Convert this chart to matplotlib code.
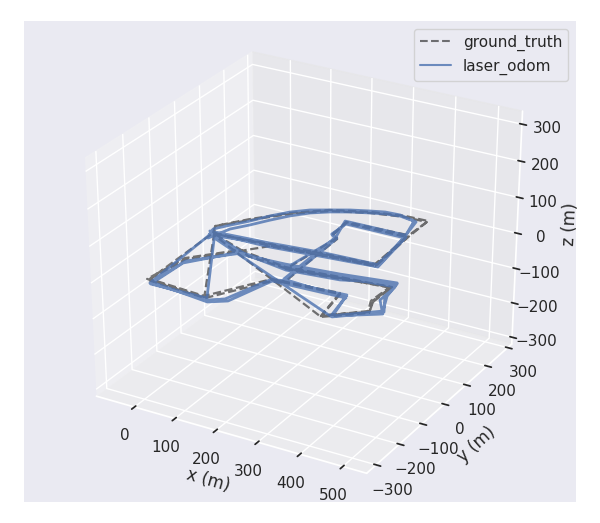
import numpy as np
import seaborn as sns
import matplotlib
matplotlib.use("Agg")
import matplotlib.pyplot as plt

gt_x = [4,-10,36,95,161,241,315,370,368,377,262,138,4,7,144,224,376,394,465,448,451,340,219,96,17,2,147,11,396,471,454,455,342,221,126,98,4,143,266,378,366,221,229,246,250,254,226,379,394,469,451,455,345,225,243,226,223,369,373,260,136,8,-9,39,97,164,243,318,370,371,379,264,141,99,21,6,151,229,256]
gt_y = [-18,14,82,152,209,244,264,266,178,19,8,-8,-18,-274,-285,-147,-133,-244,-176,-133,-57,-68,-84,-61,-153,-277,-289,-26,-247,-183,-135,-60,-72,-89,-78,-60,-18,-11,5,14,182,173,102,89,-77,-146,-151,-137,-239,-179,-126,-55,-76,-92,93,106,168,172,23,12,-4,-21,15,78,148,204,239,259,260,174,15,4,-13,-65,-156,-280,-292,-155,-150]
laser_x = [-1,8,25,51,76,102,132,166,204,243,273,306,350,363,383,264,141,2,17,159,188,224,393,415,495,466,457,338,216,101,26,21,154,19,410,497,462,460,340,219,126,99,0,143,267,385,367,223,227,244,250,250,226,394,411,491,466,457,342,223,243,224,226,367,379,260,136,2,-6,15,41,65,92,124,161,199,238,269,304,344,366,382,257,133,-7,106,212,333,455,347,228,107,25,18,164,198,229,398,245,239,217,360]
laser_y = [-21,-45,17,56,99,139,174,200,222,239,251,258,249,175,17,4,-13,-19,-290,-298,-275,-147,-134,-236,-164,-107,-43,-64,-80,-70,-175,-293,-290,-38,-234,-173,-120,-52,-68,-84,-78,-65,-20,-17,-1,13,171,168,101,88,-77,-143,-151,-139,-233,-161,-97,-37,-72,-87,93,105,164,166,15,12,-4,-31,-1,34,73,117,156,187,209,231,248,260,263,251,165,23,16,0,-13,-78,-72,-56,-33,-80,-96,-72,-165,-284,-305,-280,-155,-147,-135,96,176,179]
gt_z = [8] * len(gt_x)
laser_z = [8] * len(laser_x)

x_ticks = [0, 100, 200, 300, 400, 500]
y_ticks = [-300, -200, -100, 0, 100, 200, 300]
z_ticks = [-300, -200, -100, 0, 100, 200, 300]

sns.set_theme()

fig = plt.figure(figsize=(6, 5.23), dpi=100)
ax = fig.add_subplot(111, projection='3d')
# keep the full stretched axes rectangle instead of a square one
ax.set_position([24/600, 21/523, 552/600, 481/523])
ax.apply_aspect = lambda position=None: None
ax.set_box_aspect((1, 1, 1), zoom=0.95)

ax.plot(gt_x, gt_y, gt_z, '--', color='k', alpha=0.6, lw=1.6, label='ground_truth')
ax.plot(laser_x, laser_y, laser_z, '-', color='#4C72B0', alpha=0.8, lw=2, label='laser_odom')

ax.set_xlim(-95, 555)
ax.set_ylim(-340, 320)
ax.set_zlim(-320, 335)
ax.set_xticks(x_ticks)
ax.set_yticks(y_ticks)
ax.set_zticks(z_ticks)
ax.set_xlabel('x (m)')
ax.set_ylabel('y (m)')
ax.set_zlabel('z (m)')

leg = ax.legend()
for line in leg.get_lines():
    line.set_linewidth(1.5)

fig.savefig('out.png')
